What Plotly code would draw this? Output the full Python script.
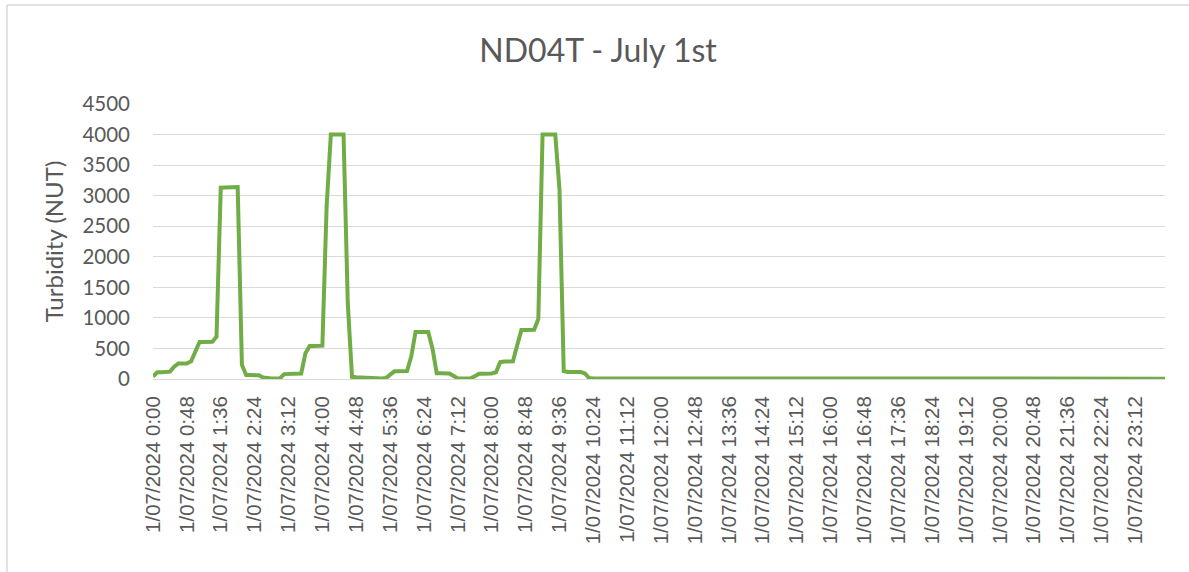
import plotly.graph_objects as go

# 6-minute readings, 1 July 2024
times = [f"1/07/2024 {m // 60}:{m % 60:02d}" for m in range(0, 1440, 6)]

turbidity = [
    40, 110, 110, 110, 120, 200, 255, 255, 255, 290,
    450, 605, 605, 605, 610, 690, 3130, 3135, 3140, 3140,
    3140, 230, 65, 65, 65, 60, 25, 10, 10, 10,
    12, 80, 85, 85, 85, 90, 420, 540, 540, 540,
    545, 2820, 4000, 4000, 4000, 4000, 1240, 35, 30, 25,
    20, 15, 12, 10, 10, 15, 70, 125, 125, 125,
    130, 370, 770, 770, 770, 770, 500, 95, 95, 95,
    90, 50, 10, 10, 10, 10, 45, 85, 85, 85,
    90, 110, 275, 285, 285, 290, 550, 800, 800, 800,
    805, 980, 4000, 4000, 4000, 4000, 3100, 130, 115, 115,
    115, 115, 90, 15, 10, 10, 9, 9, 8, 8,
    8, 8, 7, 7, 7, 7, 7, 6, 6, 6,
    6, 6, 6, 6, 6, 6, 6, 6, 6, 6,
    6, 6, 6, 6, 6, 6, 6, 6, 6, 6,
    6, 6, 6, 6, 6, 6, 6, 6, 6, 6,
    6, 6, 6, 6, 6, 6, 6, 6, 6, 6,
    6, 6, 6, 6, 6, 6, 6, 6, 6, 6,
    6, 6, 6, 6, 6, 6, 6, 6, 6, 6,
    6, 6, 6, 6, 6, 6, 6, 6, 6, 8,
    12, 15, 18, 20, 20, 20, 20, 20, 20, 20,
    20, 20, 20, 20, 20, 20, 20, 20, 20, 20,
    20, 20, 20, 20, 18, 15, 10, 8, 6, 5,
    5, 5, 5, 5, 5, 5, 5, 5, 5, 5,
    5, 5, 5, 5, 5, 5, 5, 5, 5, 5,
]

tick_labels = times[::8]
y_ticks = [0, 500, 1000, 1500, 2000, 2500, 3000, 3500, 4000, 4500]

text_color = "#595959"
grid_color = "#D9D9D9"

fig = go.Figure()
fig.add_trace(go.Scatter(
    x=times, y=turbidity, mode="lines",
    line=dict(color="#70AD47", width=4),
    hoverinfo="x+y", showlegend=False,
))

fig.update_layout(
    width=1189, height=572,
    margin=dict(l=153, r=24, t=104, b=193),
    paper_bgcolor="white", plot_bgcolor="white",
    title=dict(text="ND04T - July 1st", x=0.503, xanchor="center", y=0.912, yanchor="middle",
               font=dict(family="Lato", size=32, color=text_color)),
    xaxis=dict(
        type="category", range=[0, len(times) - 1],
        tickmode="array", tickvals=tick_labels, ticktext=tick_labels,
        tickangle=-90, tickfont=dict(family="Liberation Sans", size=20.5, color=text_color),
        showgrid=False, showline=False, zeroline=False, ticks="",
        ticklabelstandoff=12,
    ),
    yaxis=dict(
        range=[0, 4500], tickmode="array", tickvals=y_ticks,
        tickfont=dict(family="Lato", size=20.5, color=text_color),
        showgrid=True, gridcolor=grid_color, gridwidth=1.4,
        zeroline=True, zerolinecolor=grid_color, zerolinewidth=1.4,
        showline=False, ticks="", ticklabelstandoff=22,
        title=dict(text="Turbidity (NUT)", font=dict(family="Lato", size=24, color=text_color), standoff=12),
    ),
)
# chart-area border (left and top edges)
fig.add_shape(type="line", xref="paper", yref="paper", x0=-0.1443, x1=1.1, y0=1.3596, y1=1.3596,
              line=dict(color=grid_color, width=1.5))
fig.add_shape(type="line", xref="paper", yref="paper", x0=-0.1443, x1=-0.1443, y0=-1.0, y1=1.3596,
              line=dict(color=grid_color, width=1.5))

fig.write_html("out.html", config={"displayModeBar": False},
               post_script="document.body.style.margin='0';")
